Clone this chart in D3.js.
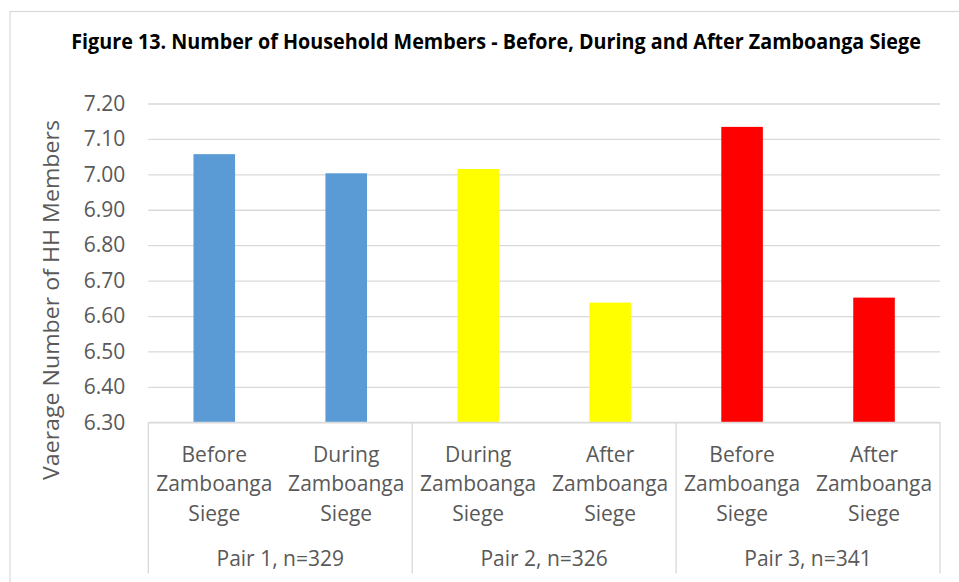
<!DOCTYPE html>
<html>
<head>
<meta charset="utf-8">
<script src="https://cdn.jsdelivr.net/npm/d3@7"></script>
<style>
  body { margin: 0; background: #fff; }
  svg { display: block; }
</style>
</head>
<body>
<div id="chart"></div>
<script>
// data
var categories = ["Before|Zamboanga|Siege", "During|Zamboanga|Siege", "During|Zamboanga|Siege",
                  "After|Zamboanga|Siege", "Before|Zamboanga|Siege", "After|Zamboanga|Siege"];
var values = [7.057, 7.003, 7.015, 6.638, 7.134, 6.652];
var barColors = ["#5B9BD5", "#5B9BD5", "#FFFF00", "#FFFF00", "#FF0000", "#FF0000"];
var groups = ["Pair 1, n=329", "Pair 2, n=326", "Pair 3, n=341"];
var yTicks = [6.3, 6.4, 6.5, 6.6, 6.7, 6.8, 6.9, 7.0, 7.1, 7.2];

var titleText = "Figure 13. Number of Household Members - Before, During and After Zamboanga Siege";
var yTitle = "Vaerage Number of HH Members";

var W = 959, H = 582;
var margin = {top: 103.5, right: 19, bottom: 159.7, left: 148.3};
var width = W - margin.left - margin.right,
    height = H - margin.top - margin.bottom;
var font = "'Open Sans', 'Noto Sans', sans-serif";

var svg = d3.select("#chart").append("svg")
  .attr("width", W).attr("height", H);

/* outer chart frame (runs off the picture on the right and bottom) */
svg.append("rect")
  .attr("x", 10).attr("y", 11.5)
  .attr("width", 1000).attr("height", 700)
  .attr("fill", "#fff").attr("stroke", "#d9d9d9").attr("stroke-width", 1.2);

/* title: squeeze horizontally to the narrow width of the original */
var titleG = svg.append("g");
var title = titleG.append("text")
  .attr("x", 0).attr("y", 0)
  .attr("text-anchor", "middle")
  .attr("font-family", font).attr("font-weight", "bold").attr("font-size", 21)
  .attr("fill", "#000")
  .text(titleText);
var tw = title.node().getComputedTextLength();
var sx = Math.min(1, 850 / tw);
titleG.attr("transform", "translate(496,49) scale(" + sx + ",1)");

var g = svg.append("g")
  .attr("transform", "translate(" + margin.left + "," + margin.top + ")");

var x = d3.scaleBand()
  .domain(d3.range(categories.length))
  .range([0, width])
  .padding(0);
var y = d3.scaleLinear()
  .domain([6.3, 7.2])
  .range([height, 0]);

/* gridlines */
g.append("g")
  .attr("class", "grid")
  .call(d3.axisLeft(y).tickValues(yTicks).tickSize(-width).tickFormat(""))
  .call(function(s) {
    s.select(".domain").remove();
    s.selectAll("line").attr("stroke", "#d9d9d9").attr("stroke-width", 1.3);
  });

/* y tick labels */
g.append("g")
  .call(d3.axisLeft(y).tickValues(yTicks).tickSize(0).tickPadding(23).tickFormat(d3.format(".2f")))
  .call(function(s) {
    s.select(".domain").remove();
    s.selectAll("text")
      .attr("font-family", font).attr("font-size", 21).attr("fill", "#595959");
  });

/* bars */
var barW = x.bandwidth() * 0.315;
g.selectAll(".bar")
  .data(values)
  .enter().append("rect")
  .attr("class", "bar")
  .attr("x", function(d, i) { return x(i) + (x.bandwidth() - barW) / 2; })
  .attr("y", function(d) { return y(d); })
  .attr("width", barW)
  .attr("height", function(d) { return height - y(d); })
  .attr("fill", function(d, i) { return barColors[i]; });

/* category axis: baseline + group separators */
var axisG = g.append("g").attr("transform", "translate(0," + height + ")");
axisG.append("line")
  .attr("x1", 0).attr("x2", width)
  .attr("stroke", "#d9d9d9").attr("stroke-width", 1.3);
var sepX = [0, 2, 4, 6];
axisG.selectAll(".sep")
  .data(sepX)
  .enter().append("line")
  .attr("class", "sep")
  .attr("x1", function(d) { return d < 6 ? x(d) : width; })
  .attr("x2", function(d) { return d < 6 ? x(d) : width; })
  .attr("y1", 0).attr("y2", 151)
  .attr("stroke", "#d9d9d9").attr("stroke-width", 1.3);

var labels = axisG.selectAll(".cat")
  .data(categories)
  .enter().append("text")
  .attr("class", "cat")
  .attr("text-anchor", "middle")
  .attr("font-family", font).attr("font-size", 21).attr("fill", "#595959")
  .attr("transform", function(d, i) { return "translate(" + (x(i) + x.bandwidth() / 2) + ",0)"; });
labels.selectAll("tspan")
  .data(function(d) { return d.split("|"); })
  .enter().append("tspan")
  .attr("x", 0)
  .attr("y", function(d, i) { return 39.5 + i * 29.5; })
  .text(function(d) { return d; });

axisG.selectAll(".grp")
  .data(groups)
  .enter().append("text")
  .attr("class", "grp")
  .attr("text-anchor", "middle")
  .attr("x", function(d, i) { return x(i * 2 + 1); })
  .attr("y", 143.5)
  .attr("font-family", font).attr("font-size", 21).attr("fill", "#595959")
  .text(function(d) { return d; });

/* y axis title */
svg.append("text")
  .attr("transform", "translate(59,300) rotate(-90)")
  .attr("text-anchor", "middle")
  .attr("font-family", font).attr("font-size", 22).attr("fill", "#595959")
  .attr("textLength", 360).attr("lengthAdjust", "spacingAndGlyphs")
  .text(yTitle);
</script>
</body>
</html>
